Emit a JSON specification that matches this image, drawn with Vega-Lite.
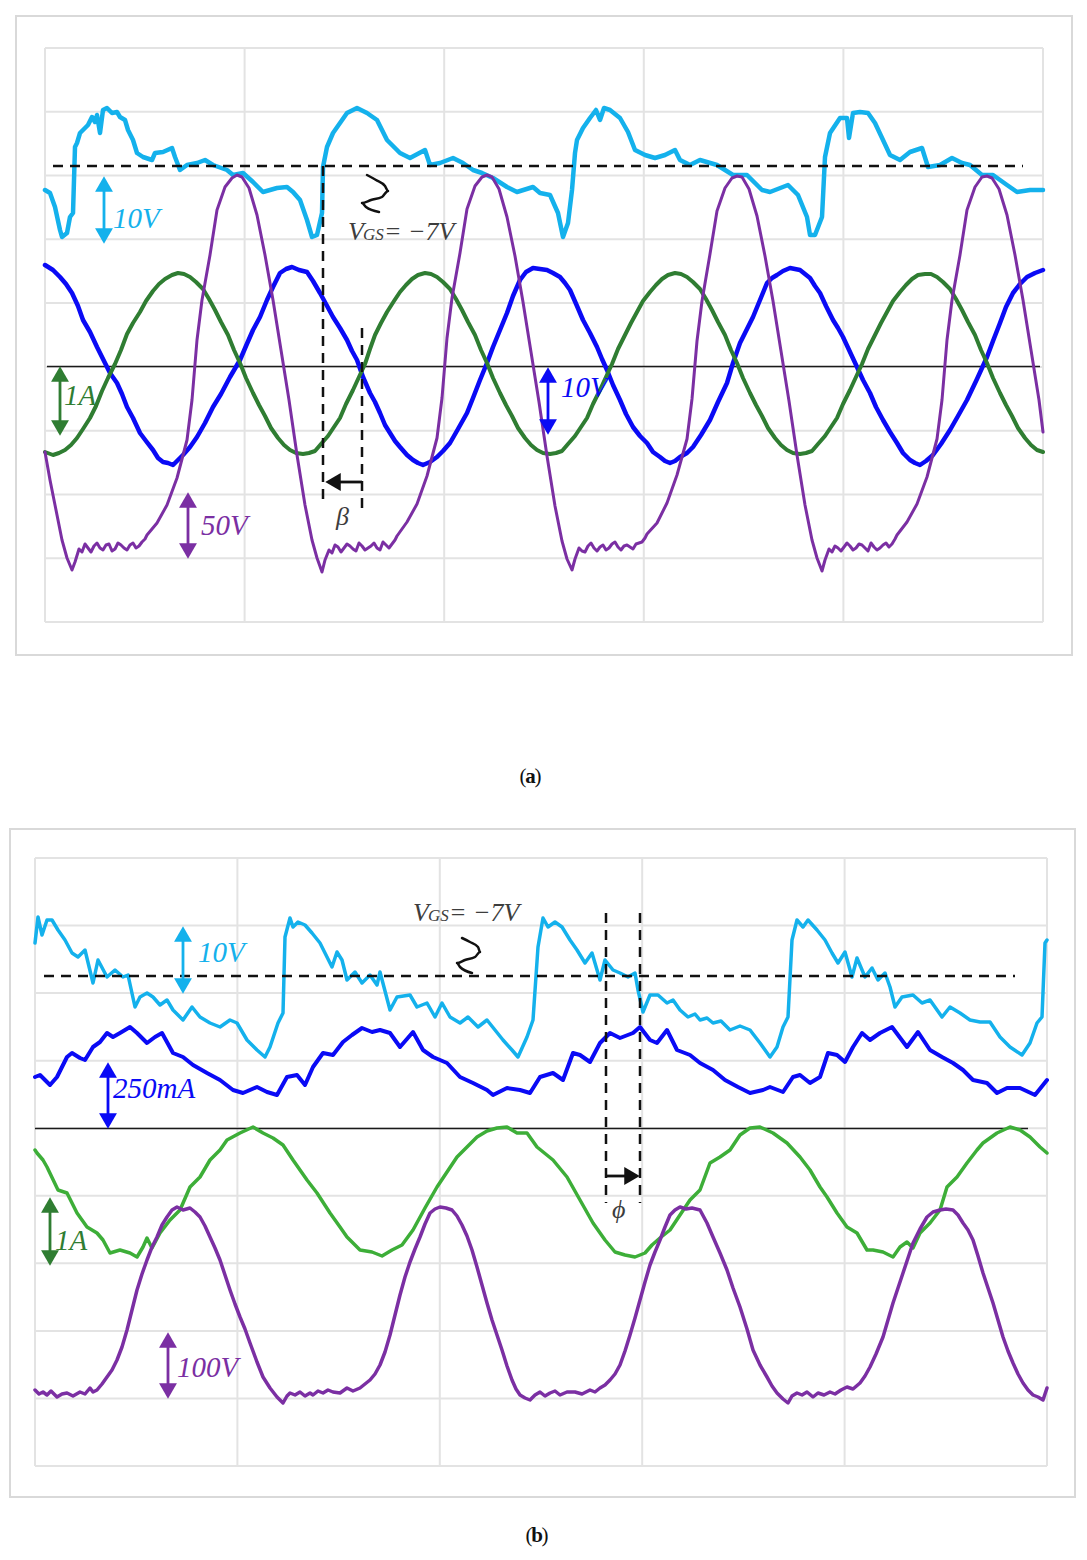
{
"$schema":"https://vega.github.io/schema/vega-lite/v6.json",
"padding":{"left":9,"top":15,"right":5,"bottom":5},
"autosize":{"type":"pad"},
"background":"white",
"config":{"view":{"stroke":null}},
"bounds":"flush",
"spacing":236,
"resolve":{"scale":{"x":"independent","y":"independent"}},
"datasets":{
"aFrame":[{"t":-29,"t2":1027,"v":-33,"v2":606}],
"aGrid":[{"t":0,"t2":0,"v":0,"v2":574},{"t":199.6,"t2":199.6,"v":0,"v2":574},{"t":399.2,"t2":399.2,"v":0,"v2":574},{"t":598.8,"t2":598.8,"v":0,"v2":574},{"t":798.4,"t2":798.4,"v":0,"v2":574},{"t":998,"t2":998,"v":0,"v2":574},
{"t":0,"t2":998,"v":0,"v2":0},{"t":0,"t2":998,"v":63.8,"v2":63.8},{"t":0,"t2":998,"v":127.6,"v2":127.6},{"t":0,"t2":998,"v":191.3,"v2":191.3},{"t":0,"t2":998,"v":255.1,"v2":255.1},{"t":0,"t2":998,"v":318.9,"v2":318.9},{"t":0,"t2":998,"v":382.7,"v2":382.7},{"t":0,"t2":998,"v":446.4,"v2":446.4},{"t":0,"t2":998,"v":510.2,"v2":510.2},{"t":0,"t2":998,"v":574,"v2":574}],
"aZero":[{"t":2,"t2":995,"v":255.5,"v2":255.5}],
"aDash":[{"t":8,"t2":978,"v":456,"v2":456},{"t":278,"t2":278,"v":456,"v2":122},{"t":317,"t2":317,"v":294,"v2":108}],
"aSquig":[{"i":1,"t":322,"v":447},{"i":2,"t":331,"v":442},{"i":3,"t":340,"v":436},{"i":4,"t":343,"v":431},{"i":5,"t":337,"v":425},{"i":6,"t":326,"v":422},{"i":7,"t":317,"v":419},{"i":8,"t":321,"v":415},{"i":9,"t":334,"v":410}],
"aShaft":[{"s":"c","t":59,"t2":59,"v":438,"v2":386},{"s":"g","t":15,"t2":15,"v":248,"v2":194},{"s":"b","t":503,"t2":503,"v":247,"v2":195},{"s":"p","t":143,"t2":143,"v":122,"v2":71},{"s":"k","t":288,"t2":317,"v":140,"v2":140}],
"aHead":[{"s":"c","t":59,"v":438,"d":"u"},{"s":"c","t":59,"v":386,"d":"d"},{"s":"g","t":15,"v":248,"d":"u"},{"s":"g","t":15,"v":194,"d":"d"},{"s":"b","t":503,"v":247,"d":"u"},{"s":"b","t":503,"v":195,"d":"d"},{"s":"p","t":143,"v":122,"d":"u"},{"s":"p","t":143,"v":71,"d":"d"},{"s":"k","t":288,"v":140,"d":"l"}],
"aLab":[{"s":"c","t":68,"v":394,"label":"10V"},{"s":"g","t":19,"v":217,"label":"1A"},{"s":"b","t":516,"v":225,"label":"10V"},{"s":"p","t":156,"v":87,"label":"50V"}],
"aTxt":[{"s":"t","t":303,"v":382,"label":"V"},{"s":"t","t":339,"v":382,"label":"= −7V"},{"s":"t","t":291,"v":97,"label":"β"}],
"aSub":[{"s":"t","t":318,"v":382,"label":"GS"}],
"aCap":[{"t":478,"v":-161,"label":"("},{"t":493,"v":-161,"label":")"}],
"aCapB":[{"t":485.5,"v":-161,"label":"a"}],
"aCyan":[{"t":0,"v":432},{"t":5,"v":429},{"t":10,"v":415},{"t":15,"v":392},{"t":17,"v":385},{"t":22,"v":389},{"t":25,"v":405},{"t":28,"v":409},{"t":30,"v":475},{"t":32,"v":479},{"t":35,"v":489},{"t":38,"v":492},{"t":43,"v":497},{"t":47,"v":505},{"t":50,"v":500},{"t":52,"v":507},{"t":55,"v":489},{"t":58,"v":512},{"t":62,"v":514},{"t":67,"v":509},{"t":72,"v":510},{"t":75,"v":505},{"t":80,"v":502},{"t":83,"v":492},{"t":88,"v":482},{"t":92,"v":469},{"t":98,"v":465},{"t":107,"v":462},{"t":110,"v":469},{"t":118,"v":470},{"t":127,"v":474},{"t":130,"v":465},{"t":135,"v":452},{"t":142,"v":457},{"t":152,"v":459},{"t":160,"v":462},{"t":168,"v":457},{"t":182,"v":452},{"t":188,"v":447},{"t":198,"v":449},{"t":208,"v":440},{"t":218,"v":430},{"t":232,"v":434},{"t":242,"v":435},{"t":248,"v":430},{"t":255,"v":422},{"t":262,"v":402},{"t":267,"v":385},{"t":272,"v":387},{"t":277,"v":409},{"t":278,"v":455},{"t":282,"v":475},{"t":288,"v":489},{"t":295,"v":499},{"t":302,"v":509},{"t":312,"v":514},{"t":322,"v":509},{"t":332,"v":502},{"t":342,"v":482},{"t":355,"v":469},{"t":365,"v":464},{"t":380,"v":472},{"t":385,"v":457},{"t":395,"v":459},{"t":408,"v":464},{"t":418,"v":459},{"t":428,"v":452},{"t":437,"v":449},{"t":448,"v":444},{"t":462,"v":435},{"t":472,"v":430},{"t":488,"v":435},{"t":495,"v":429},{"t":505,"v":427},{"t":513,"v":409},{"t":518,"v":385},{"t":523,"v":399},{"t":527,"v":432},{"t":530,"v":469},{"t":532,"v":482},{"t":538,"v":494},{"t":545,"v":504},{"t":551,"v":512},{"t":555,"v":502},{"t":559,"v":514},{"t":565,"v":512},{"t":575,"v":504},{"t":583,"v":490},{"t":590,"v":472},{"t":600,"v":467},{"t":610,"v":464},{"t":620,"v":467},{"t":630,"v":472},{"t":635,"v":462},{"t":645,"v":457},{"t":655,"v":462},{"t":672,"v":457},{"t":688,"v":447},{"t":702,"v":447},{"t":717,"v":432},{"t":725,"v":430},{"t":743,"v":437},{"t":753,"v":427},{"t":762,"v":405},{"t":765,"v":387},{"t":770,"v":387},{"t":777,"v":405},{"t":780,"v":465},{"t":785,"v":489},{"t":795,"v":504},{"t":802,"v":504},{"t":804,"v":484},{"t":808,"v":509},{"t":815,"v":510},{"t":823,"v":509},{"t":830,"v":499},{"t":838,"v":482},{"t":845,"v":467},{"t":855,"v":462},{"t":865,"v":470},{"t":877,"v":474},{"t":883,"v":455},{"t":895,"v":457},{"t":907,"v":464},{"t":917,"v":459},{"t":925,"v":457},{"t":937,"v":447},{"t":948,"v":447},{"t":962,"v":437},{"t":972,"v":430},{"t":985,"v":432},{"t":998,"v":432}],
"aBlue":[{"t":0,"v":357},{"t":8,"v":352},{"t":15,"v":345},{"t":21,"v":338},{"t":27,"v":329},{"t":33,"v":316},{"t":38,"v":302},{"t":45,"v":290},{"t":52,"v":275},{"t":58,"v":263},{"t":65,"v":249},{"t":72,"v":239},{"t":77,"v":228},{"t":82,"v":215},{"t":88,"v":204},{"t":95,"v":189},{"t":101,"v":181},{"t":108,"v":172},{"t":113,"v":164},{"t":118,"v":160},{"t":123,"v":159},{"t":128,"v":157},{"t":133,"v":162},{"t":138,"v":167},{"t":145,"v":175},{"t":152,"v":185},{"t":160,"v":199},{"t":168,"v":215},{"t":176,"v":228},{"t":185,"v":245},{"t":195,"v":262},{"t":201,"v":276},{"t":208,"v":292},{"t":215,"v":305},{"t":222,"v":322},{"t":228,"v":335},{"t":235,"v":349},{"t":241,"v":353},{"t":247,"v":355},{"t":254,"v":352},{"t":262,"v":350},{"t":268,"v":341},{"t":275,"v":329},{"t":281,"v":318},{"t":288,"v":305},{"t":295,"v":294},{"t":302,"v":282},{"t":307,"v":271},{"t":312,"v":262},{"t":318,"v":245},{"t":325,"v":229},{"t":330,"v":220},{"t":335,"v":209},{"t":340,"v":197},{"t":345,"v":189},{"t":350,"v":181},{"t":355,"v":175},{"t":362,"v":167},{"t":368,"v":162},{"t":373,"v":159},{"t":378,"v":157},{"t":385,"v":160},{"t":392,"v":165},{"t":398,"v":171},{"t":405,"v":179},{"t":413,"v":193},{"t":422,"v":209},{"t":428,"v":224},{"t":435,"v":242},{"t":442,"v":259},{"t":448,"v":275},{"t":455,"v":292},{"t":462,"v":309},{"t":468,"v":326},{"t":475,"v":342},{"t":481,"v":350},{"t":488,"v":354},{"t":495,"v":353},{"t":502,"v":352},{"t":508,"v":349},{"t":515,"v":345},{"t":520,"v":339},{"t":525,"v":332},{"t":532,"v":316},{"t":538,"v":302},{"t":545,"v":289},{"t":552,"v":275},{"t":557,"v":263},{"t":562,"v":252},{"t":568,"v":237},{"t":575,"v":222},{"t":581,"v":208},{"t":588,"v":195},{"t":595,"v":186},{"t":602,"v":179},{"t":608,"v":170},{"t":615,"v":165},{"t":620,"v":161},{"t":625,"v":159},{"t":630,"v":161},{"t":635,"v":165},{"t":642,"v":169},{"t":648,"v":175},{"t":656,"v":187},{"t":665,"v":202},{"t":673,"v":220},{"t":682,"v":239},{"t":688,"v":259},{"t":695,"v":279},{"t":701,"v":291},{"t":708,"v":305},{"t":715,"v":322},{"t":722,"v":339},{"t":727,"v":344},{"t":732,"v":347},{"t":738,"v":351},{"t":745,"v":354},{"t":750,"v":353},{"t":755,"v":352},{"t":760,"v":348},{"t":765,"v":344},{"t":770,"v":336},{"t":775,"v":329},{"t":781,"v":316},{"t":788,"v":302},{"t":793,"v":294},{"t":798,"v":285},{"t":805,"v":270},{"t":812,"v":255},{"t":818,"v":242},{"t":825,"v":229},{"t":831,"v":215},{"t":838,"v":202},{"t":845,"v":190},{"t":852,"v":179},{"t":858,"v":169},{"t":865,"v":162},{"t":870,"v":159},{"t":875,"v":157},{"t":881,"v":161},{"t":888,"v":167},{"t":896,"v":178},{"t":905,"v":192},{"t":913,"v":206},{"t":922,"v":222},{"t":932,"v":243},{"t":942,"v":265},{"t":948,"v":281},{"t":955,"v":299},{"t":961,"v":315},{"t":968,"v":329},{"t":975,"v":338},{"t":982,"v":345},{"t":990,"v":349},{"t":998,"v":352}],
"aGreen":[{"t":0,"v":170},{"t":8,"v":167},{"t":14,"v":169},{"t":20,"v":172},{"t":26,"v":177},{"t":32,"v":184},{"t":38,"v":193},{"t":45,"v":204},{"t":51,"v":216},{"t":57,"v":231},{"t":63,"v":244},{"t":70,"v":258},{"t":76,"v":272},{"t":82,"v":288},{"t":88,"v":299},{"t":95,"v":310},{"t":101,"v":321},{"t":108,"v":331},{"t":114,"v":338},{"t":120,"v":343},{"t":127,"v":347},{"t":133,"v":349},{"t":139,"v":348},{"t":145,"v":345},{"t":151,"v":340},{"t":158,"v":333},{"t":164,"v":323},{"t":170,"v":312},{"t":176,"v":300},{"t":183,"v":287},{"t":189,"v":272},{"t":195,"v":259},{"t":201,"v":244},{"t":208,"v":229},{"t":214,"v":217},{"t":220,"v":206},{"t":226,"v":194},{"t":233,"v":184},{"t":239,"v":177},{"t":245,"v":172},{"t":251,"v":169},{"t":258,"v":168},{"t":264,"v":169},{"t":270,"v":171},{"t":276,"v":178},{"t":283,"v":186},{"t":289,"v":195},{"t":295,"v":204},{"t":301,"v":218},{"t":308,"v":232},{"t":314,"v":245},{"t":320,"v":258},{"t":325,"v":273},{"t":330,"v":287},{"t":336,"v":299},{"t":342,"v":310},{"t":349,"v":321},{"t":355,"v":330},{"t":361,"v":337},{"t":367,"v":343},{"t":373,"v":347},{"t":380,"v":349},{"t":386,"v":348},{"t":392,"v":345},{"t":398,"v":340},{"t":405,"v":333},{"t":411,"v":323},{"t":417,"v":312},{"t":423,"v":300},{"t":430,"v":287},{"t":436,"v":272},{"t":442,"v":259},{"t":448,"v":244},{"t":455,"v":229},{"t":461,"v":217},{"t":467,"v":206},{"t":473,"v":194},{"t":480,"v":184},{"t":486,"v":177},{"t":492,"v":172},{"t":498,"v":169},{"t":505,"v":168},{"t":511,"v":169},{"t":517,"v":171},{"t":523,"v":178},{"t":530,"v":186},{"t":536,"v":195},{"t":542,"v":204},{"t":548,"v":218},{"t":555,"v":232},{"t":561,"v":245},{"t":567,"v":258},{"t":573,"v":273},{"t":580,"v":287},{"t":586,"v":299},{"t":592,"v":310},{"t":598,"v":321},{"t":605,"v":330},{"t":611,"v":337},{"t":617,"v":343},{"t":623,"v":347},{"t":630,"v":349},{"t":636,"v":348},{"t":642,"v":345},{"t":648,"v":340},{"t":655,"v":333},{"t":661,"v":323},{"t":667,"v":312},{"t":673,"v":300},{"t":680,"v":287},{"t":686,"v":272},{"t":692,"v":259},{"t":698,"v":244},{"t":705,"v":229},{"t":711,"v":217},{"t":717,"v":206},{"t":723,"v":194},{"t":730,"v":184},{"t":736,"v":177},{"t":742,"v":172},{"t":748,"v":169},{"t":755,"v":168},{"t":761,"v":169},{"t":767,"v":171},{"t":773,"v":178},{"t":780,"v":186},{"t":786,"v":195},{"t":792,"v":204},{"t":798,"v":218},{"t":805,"v":232},{"t":811,"v":245},{"t":817,"v":258},{"t":823,"v":273},{"t":830,"v":287},{"t":836,"v":299},{"t":842,"v":310},{"t":848,"v":321},{"t":855,"v":330},{"t":861,"v":337},{"t":867,"v":343},{"t":873,"v":347},{"t":880,"v":348},{"t":886,"v":348},{"t":892,"v":345},{"t":898,"v":340},{"t":905,"v":333},{"t":911,"v":323},{"t":917,"v":312},{"t":923,"v":300},{"t":930,"v":287},{"t":936,"v":272},{"t":942,"v":259},{"t":948,"v":244},{"t":955,"v":229},{"t":961,"v":217},{"t":967,"v":206},{"t":973,"v":194},{"t":980,"v":184},{"t":986,"v":177},{"t":992,"v":172},{"t":998,"v":170}],
"aPurple":[{"t":0,"v":170},{"t":5,"v":142},{"t":10,"v":117},{"t":17,"v":82},{"t":22,"v":64},{"t":27,"v":52},{"t":30,"v":60},{"t":34,"v":73},{"t":37,"v":70},{"t":40,"v":78},{"t":43,"v":74},{"t":46,"v":70},{"t":49,"v":76},{"t":52,"v":79},{"t":55,"v":74},{"t":58,"v":72},{"t":61,"v":77},{"t":64,"v":78},{"t":67,"v":71},{"t":70,"v":73},{"t":73,"v":79},{"t":76,"v":77},{"t":79,"v":74},{"t":82,"v":72},{"t":85,"v":77},{"t":88,"v":79},{"t":91,"v":74},{"t":94,"v":76},{"t":97,"v":80},{"t":100,"v":83},{"t":102,"v":87},{"t":112,"v":99},{"t":122,"v":117},{"t":132,"v":144},{"t":142,"v":182},{"t":147,"v":222},{"t":152,"v":282},{"t":157,"v":322},{"t":165,"v":367},{"t":172,"v":412},{"t":180,"v":435},{"t":187,"v":444},{"t":192,"v":447},{"t":197,"v":445},{"t":204,"v":434},{"t":212,"v":407},{"t":220,"v":367},{"t":228,"v":322},{"t":236,"v":272},{"t":244,"v":222},{"t":252,"v":167},{"t":260,"v":117},{"t":267,"v":82},{"t":272,"v":64},{"t":277,"v":50},{"t":280,"v":62},{"t":284,"v":72},{"t":287,"v":69},{"t":290,"v":77},{"t":293,"v":75},{"t":296,"v":70},{"t":299,"v":74},{"t":302,"v":78},{"t":305,"v":76},{"t":308,"v":73},{"t":311,"v":71},{"t":314,"v":79},{"t":317,"v":76},{"t":320,"v":72},{"t":323,"v":74},{"t":326,"v":76},{"t":329,"v":79},{"t":332,"v":74},{"t":335,"v":72},{"t":338,"v":80},{"t":341,"v":77},{"t":344,"v":74},{"t":347,"v":78},{"t":350,"v":82},{"t":352,"v":86},{"t":362,"v":100},{"t":372,"v":118},{"t":382,"v":146},{"t":392,"v":184},{"t":397,"v":224},{"t":402,"v":284},{"t":407,"v":324},{"t":415,"v":369},{"t":422,"v":413},{"t":430,"v":436},{"t":437,"v":445},{"t":442,"v":447},{"t":447,"v":445},{"t":454,"v":433},{"t":462,"v":405},{"t":470,"v":366},{"t":478,"v":320},{"t":486,"v":270},{"t":494,"v":220},{"t":502,"v":166},{"t":510,"v":116},{"t":517,"v":81},{"t":522,"v":63},{"t":527,"v":52},{"t":530,"v":63},{"t":534,"v":74},{"t":537,"v":71},{"t":540,"v":70},{"t":543,"v":76},{"t":546,"v":79},{"t":549,"v":74},{"t":552,"v":71},{"t":555,"v":75},{"t":558,"v":77},{"t":561,"v":72},{"t":564,"v":74},{"t":567,"v":78},{"t":570,"v":80},{"t":573,"v":75},{"t":576,"v":72},{"t":579,"v":76},{"t":582,"v":77},{"t":585,"v":75},{"t":588,"v":73},{"t":591,"v":78},{"t":594,"v":79},{"t":597,"v":80},{"t":600,"v":84},{"t":602,"v":88},{"t":612,"v":99},{"t":622,"v":119},{"t":632,"v":147},{"t":642,"v":183},{"t":647,"v":223},{"t":652,"v":281},{"t":657,"v":321},{"t":665,"v":368},{"t":672,"v":411},{"t":680,"v":434},{"t":687,"v":444},{"t":692,"v":446},{"t":697,"v":445},{"t":704,"v":433},{"t":712,"v":406},{"t":720,"v":366},{"t":728,"v":321},{"t":736,"v":271},{"t":744,"v":221},{"t":752,"v":167},{"t":760,"v":117},{"t":767,"v":82},{"t":772,"v":64},{"t":777,"v":51},{"t":780,"v":62},{"t":784,"v":73},{"t":787,"v":70},{"t":790,"v":76},{"t":793,"v":74},{"t":796,"v":71},{"t":799,"v":75},{"t":802,"v":79},{"t":805,"v":76},{"t":808,"v":72},{"t":811,"v":74},{"t":814,"v":78},{"t":817,"v":77},{"t":820,"v":74},{"t":823,"v":71},{"t":826,"v":79},{"t":829,"v":75},{"t":832,"v":72},{"t":835,"v":74},{"t":838,"v":77},{"t":841,"v":79},{"t":844,"v":75},{"t":847,"v":78},{"t":850,"v":83},{"t":852,"v":87},{"t":862,"v":100},{"t":872,"v":118},{"t":882,"v":145},{"t":892,"v":183},{"t":897,"v":222},{"t":902,"v":282},{"t":907,"v":322},{"t":915,"v":367},{"t":922,"v":412},{"t":930,"v":435},{"t":937,"v":445},{"t":942,"v":446},{"t":947,"v":444},{"t":954,"v":433},{"t":962,"v":407},{"t":970,"v":367},{"t":978,"v":322},{"t":986,"v":272},{"t":994,"v":222},{"t":998,"v":190}],
"bFrame":[{"t":-25,"t2":1040,"v":-31,"v2":637}],
"bGrid":[{"t":0,"t2":0,"v":0,"v2":608},{"t":202.4,"t2":202.4,"v":0,"v2":608},{"t":404.8,"t2":404.8,"v":0,"v2":608},{"t":607.2,"t2":607.2,"v":0,"v2":608},{"t":809.6,"t2":809.6,"v":0,"v2":608},{"t":1012,"t2":1012,"v":0,"v2":608},
{"t":0,"t2":1012,"v":0,"v2":0},{"t":0,"t2":1012,"v":67.6,"v2":67.6},{"t":0,"t2":1012,"v":135.1,"v2":135.1},{"t":0,"t2":1012,"v":202.7,"v2":202.7},{"t":0,"t2":1012,"v":270.2,"v2":270.2},{"t":0,"t2":1012,"v":337.8,"v2":337.8},{"t":0,"t2":1012,"v":405.3,"v2":405.3},{"t":0,"t2":1012,"v":472.9,"v2":472.9},{"t":0,"t2":1012,"v":540.4,"v2":540.4},{"t":0,"t2":1012,"v":608,"v2":608}],
"bZero":[{"t":0,"t2":993,"v":337.5,"v2":337.5}],
"bDash":[{"t":9,"t2":980,"v":490,"v2":490},{"t":571,"t2":571,"v":553,"v2":263},{"t":605,"t2":605,"v":553,"v2":263}],
"bSquig":[{"i":1,"t":427,"v":528},{"i":2,"t":435,"v":524},{"i":3,"t":443,"v":519},{"i":4,"t":445,"v":514},{"i":5,"t":440,"v":509},{"i":6,"t":430,"v":506},{"i":7,"t":422,"v":503},{"i":8,"t":425,"v":499},{"i":9,"t":437,"v":493}],
"bShaft":[{"s":"c","t":148,"t2":148,"v":532,"v2":480},{"s":"b","t":73,"t2":73,"v":396,"v2":345},{"s":"g","t":15,"t2":15,"v":261,"v2":208},{"s":"p","t":133,"t2":133,"v":126,"v2":75},{"s":"k","t":571,"t2":597,"v":290,"v2":290}],
"bHead":[{"s":"c","t":148,"v":532,"d":"u"},{"s":"c","t":148,"v":480,"d":"d"},{"s":"b","t":73,"v":396,"d":"u"},{"s":"b","t":73,"v":345,"d":"d"},{"s":"g","t":15,"v":261,"d":"u"},{"s":"g","t":15,"v":208,"d":"d"},{"s":"p","t":133,"v":126,"d":"u"},{"s":"p","t":133,"v":75,"d":"d"},{"s":"k","t":597,"v":290,"d":"r"}],
"bLab":[{"s":"c","t":163,"v":504,"label":"10V"},{"s":"b","t":78,"v":368,"label":"250mA"},{"s":"g","t":20,"v":216,"label":"1A"},{"s":"p","t":142,"v":89,"label":"100V"}],
"bTxt":[{"s":"t","t":378,"v":545,"label":"V"},{"s":"t","t":414,"v":545,"label":"= −7V"},{"s":"t","t":577,"v":248,"label":"ϕ"}],
"bSub":[{"s":"t","t":393,"v":545,"label":"GS"}],
"bCap":[{"t":494,"v":-76,"label":"("},{"t":510,"v":-76,"label":")"}],
"bCapB":[{"t":502,"v":-76,"label":"b"}],
"bCyan":[{"t":0,"v":523},{"t":3,"v":549},{"t":7,"v":531},{"t":12,"v":546},{"t":17,"v":546},{"t":23,"v":536},{"t":30,"v":526},{"t":37,"v":513},{"t":43,"v":509},{"t":50,"v":516},{"t":58,"v":483},{"t":63,"v":506},{"t":72,"v":489},{"t":80,"v":496},{"t":88,"v":489},{"t":93,"v":491},{"t":100,"v":459},{"t":105,"v":469},{"t":112,"v":473},{"t":118,"v":469},{"t":125,"v":461},{"t":132,"v":466},{"t":138,"v":456},{"t":148,"v":446},{"t":157,"v":459},{"t":165,"v":449},{"t":175,"v":443},{"t":185,"v":439},{"t":195,"v":446},{"t":202,"v":443},{"t":212,"v":426},{"t":222,"v":416},{"t":230,"v":409},{"t":235,"v":419},{"t":243,"v":443},{"t":248,"v":453},{"t":250,"v":529},{"t":255,"v":548},{"t":258,"v":539},{"t":263,"v":544},{"t":270,"v":541},{"t":277,"v":533},{"t":285,"v":523},{"t":290,"v":513},{"t":297,"v":499},{"t":302,"v":514},{"t":307,"v":506},{"t":312,"v":486},{"t":320,"v":494},{"t":327,"v":483},{"t":335,"v":491},{"t":342,"v":481},{"t":345,"v":494},{"t":355,"v":456},{"t":362,"v":469},{"t":375,"v":471},{"t":382,"v":459},{"t":392,"v":463},{"t":400,"v":449},{"t":407,"v":463},{"t":415,"v":449},{"t":425,"v":443},{"t":433,"v":449},{"t":443,"v":439},{"t":452,"v":446},{"t":460,"v":436},{"t":468,"v":426},{"t":477,"v":416},{"t":483,"v":409},{"t":492,"v":429},{"t":498,"v":446},{"t":503,"v":519},{"t":508,"v":548},{"t":513,"v":539},{"t":520,"v":544},{"t":527,"v":539},{"t":535,"v":526},{"t":542,"v":516},{"t":550,"v":503},{"t":557,"v":513},{"t":565,"v":486},{"t":570,"v":506},{"t":578,"v":496},{"t":585,"v":493},{"t":593,"v":489},{"t":600,"v":493},{"t":603,"v":476},{"t":608,"v":454},{"t":615,"v":471},{"t":623,"v":471},{"t":632,"v":463},{"t":638,"v":466},{"t":645,"v":456},{"t":653,"v":449},{"t":660,"v":452},{"t":665,"v":446},{"t":672,"v":448},{"t":678,"v":443},{"t":686,"v":445},{"t":695,"v":436},{"t":705,"v":440},{"t":715,"v":436},{"t":725,"v":423},{"t":735,"v":409},{"t":742,"v":419},{"t":748,"v":439},{"t":753,"v":449},{"t":757,"v":526},{"t":762,"v":546},{"t":768,"v":539},{"t":773,"v":546},{"t":782,"v":536},{"t":790,"v":526},{"t":797,"v":513},{"t":803,"v":503},{"t":810,"v":514},{"t":817,"v":489},{"t":822,"v":508},{"t":830,"v":489},{"t":837,"v":498},{"t":843,"v":486},{"t":850,"v":493},{"t":855,"v":479},{"t":860,"v":459},{"t":867,"v":469},{"t":878,"v":471},{"t":887,"v":463},{"t":895,"v":466},{"t":907,"v":449},{"t":915,"v":459},{"t":925,"v":453},{"t":935,"v":446},{"t":945,"v":444},{"t":955,"v":444},{"t":965,"v":429},{"t":975,"v":419},{"t":987,"v":411},{"t":995,"v":423},{"t":1002,"v":443},{"t":1007,"v":449},{"t":1010,"v":523},{"t":1012,"v":526}],
"bBlue":[{"t":0,"v":389},{"t":5,"v":391},{"t":15,"v":381},{"t":22,"v":389},{"t":32,"v":409},{"t":37,"v":413},{"t":45,"v":408},{"t":50,"v":406},{"t":58,"v":419},{"t":65,"v":424},{"t":72,"v":433},{"t":78,"v":429},{"t":85,"v":433},{"t":95,"v":439},{"t":102,"v":433},{"t":112,"v":423},{"t":120,"v":429},{"t":127,"v":433},{"t":138,"v":413},{"t":148,"v":409},{"t":158,"v":401},{"t":172,"v":393},{"t":185,"v":386},{"t":198,"v":376},{"t":208,"v":373},{"t":222,"v":379},{"t":232,"v":374},{"t":242,"v":371},{"t":252,"v":389},{"t":262,"v":391},{"t":270,"v":381},{"t":278,"v":399},{"t":288,"v":413},{"t":298,"v":411},{"t":308,"v":424},{"t":317,"v":431},{"t":327,"v":438},{"t":337,"v":434},{"t":345,"v":436},{"t":355,"v":433},{"t":365,"v":419},{"t":378,"v":434},{"t":388,"v":416},{"t":398,"v":409},{"t":412,"v":403},{"t":425,"v":389},{"t":438,"v":383},{"t":452,"v":376},{"t":458,"v":371},{"t":472,"v":378},{"t":485,"v":376},{"t":495,"v":373},{"t":505,"v":389},{"t":518,"v":393},{"t":528,"v":386},{"t":538,"v":413},{"t":545,"v":411},{"t":555,"v":404},{"t":565,"v":423},{"t":575,"v":433},{"t":585,"v":428},{"t":598,"v":433},{"t":605,"v":439},{"t":615,"v":426},{"t":622,"v":423},{"t":632,"v":436},{"t":642,"v":416},{"t":655,"v":411},{"t":665,"v":403},{"t":678,"v":396},{"t":690,"v":386},{"t":703,"v":379},{"t":715,"v":373},{"t":728,"v":376},{"t":735,"v":379},{"t":748,"v":374},{"t":758,"v":389},{"t":765,"v":391},{"t":775,"v":383},{"t":785,"v":389},{"t":793,"v":413},{"t":802,"v":411},{"t":810,"v":404},{"t":818,"v":419},{"t":827,"v":433},{"t":835,"v":426},{"t":845,"v":433},{"t":857,"v":439},{"t":863,"v":431},{"t":872,"v":419},{"t":883,"v":434},{"t":895,"v":416},{"t":907,"v":409},{"t":918,"v":403},{"t":928,"v":396},{"t":938,"v":386},{"t":952,"v":383},{"t":962,"v":373},{"t":972,"v":378},{"t":985,"v":378},{"t":1000,"v":371},{"t":1012,"v":386}],
"bGreen":[{"t":0,"v":316},{"t":2,"v":313},{"t":8,"v":306},{"t":12,"v":299},{"t":23,"v":276},{"t":32,"v":273},{"t":42,"v":253},{"t":52,"v":239},{"t":62,"v":233},{"t":68,"v":226},{"t":75,"v":213},{"t":85,"v":216},{"t":95,"v":213},{"t":102,"v":209},{"t":108,"v":219},{"t":112,"v":228},{"t":117,"v":218},{"t":125,"v":233},{"t":135,"v":246},{"t":145,"v":256},{"t":155,"v":279},{"t":165,"v":289},{"t":175,"v":306},{"t":185,"v":316},{"t":192,"v":326},{"t":205,"v":333},{"t":218,"v":339},{"t":228,"v":333},{"t":238,"v":328},{"t":248,"v":321},{"t":258,"v":306},{"t":272,"v":286},{"t":282,"v":273},{"t":295,"v":253},{"t":305,"v":239},{"t":312,"v":229},{"t":325,"v":216},{"t":337,"v":214},{"t":347,"v":210},{"t":357,"v":216},{"t":367,"v":221},{"t":378,"v":236},{"t":390,"v":258},{"t":402,"v":279},{"t":412,"v":294},{"t":422,"v":309},{"t":432,"v":319},{"t":442,"v":329},{"t":452,"v":335},{"t":462,"v":338},{"t":472,"v":339},{"t":482,"v":333},{"t":492,"v":333},{"t":502,"v":319},{"t":518,"v":306},{"t":532,"v":289},{"t":545,"v":266},{"t":558,"v":243},{"t":570,"v":226},{"t":580,"v":214},{"t":590,"v":211},{"t":600,"v":209},{"t":610,"v":213},{"t":617,"v":221},{"t":625,"v":228},{"t":635,"v":236},{"t":645,"v":251},{"t":655,"v":266},{"t":665,"v":276},{"t":675,"v":303},{"t":685,"v":309},{"t":695,"v":316},{"t":705,"v":331},{"t":715,"v":338},{"t":725,"v":339},{"t":738,"v":333},{"t":752,"v":323},{"t":765,"v":309},{"t":775,"v":296},{"t":785,"v":279},{"t":792,"v":269},{"t":802,"v":253},{"t":812,"v":239},{"t":822,"v":233},{"t":832,"v":216},{"t":838,"v":216},{"t":848,"v":214},{"t":858,"v":209},{"t":865,"v":219},{"t":872,"v":224},{"t":878,"v":218},{"t":885,"v":233},{"t":895,"v":243},{"t":905,"v":256},{"t":912,"v":279},{"t":922,"v":289},{"t":932,"v":303},{"t":942,"v":316},{"t":948,"v":323},{"t":962,"v":333},{"t":975,"v":339},{"t":985,"v":336},{"t":995,"v":329},{"t":1005,"v":319},{"t":1012,"v":313}],
"bPurple":[{"t":0,"v":76},{"t":4,"v":72},{"t":8,"v":74},{"t":12,"v":71},{"t":16,"v":75},{"t":22,"v":69},{"t":27,"v":72},{"t":32,"v":73},{"t":38,"v":70},{"t":45,"v":74},{"t":50,"v":72},{"t":55,"v":78},{"t":58,"v":74},{"t":62,"v":76},{"t":67,"v":82},{"t":72,"v":89},{"t":77,"v":96},{"t":82,"v":106},{"t":87,"v":119},{"t":92,"v":136},{"t":97,"v":156},{"t":102,"v":176},{"t":107,"v":192},{"t":112,"v":206},{"t":117,"v":219},{"t":122,"v":229},{"t":127,"v":241},{"t":132,"v":249},{"t":137,"v":256},{"t":142,"v":259},{"t":148,"v":256},{"t":155,"v":258},{"t":160,"v":254},{"t":165,"v":249},{"t":170,"v":240},{"t":175,"v":229},{"t":180,"v":218},{"t":185,"v":206},{"t":190,"v":191},{"t":195,"v":176},{"t":200,"v":162},{"t":205,"v":149},{"t":210,"v":137},{"t":215,"v":123},{"t":222,"v":104},{"t":228,"v":89},{"t":235,"v":78},{"t":242,"v":69},{"t":248,"v":63},{"t":252,"v":70},{"t":255,"v":73},{"t":260,"v":71},{"t":265,"v":74},{"t":270,"v":70},{"t":275,"v":73},{"t":278,"v":71},{"t":283,"v":75},{"t":288,"v":73},{"t":293,"v":76},{"t":298,"v":74},{"t":305,"v":73},{"t":312,"v":78},{"t":318,"v":75},{"t":325,"v":78},{"t":330,"v":82},{"t":335,"v":86},{"t":340,"v":92},{"t":345,"v":101},{"t":350,"v":114},{"t":355,"v":131},{"t":360,"v":151},{"t":365,"v":171},{"t":370,"v":189},{"t":375,"v":204},{"t":380,"v":217},{"t":385,"v":229},{"t":390,"v":242},{"t":395,"v":253},{"t":400,"v":257},{"t":405,"v":259},{"t":411,"v":258},{"t":417,"v":256},{"t":422,"v":250},{"t":427,"v":241},{"t":432,"v":230},{"t":437,"v":216},{"t":442,"v":199},{"t":447,"v":181},{"t":452,"v":163},{"t":457,"v":146},{"t":462,"v":131},{"t":467,"v":116},{"t":472,"v":100},{"t":477,"v":86},{"t":481,"v":77},{"t":485,"v":71},{"t":490,"v":68},{"t":495,"v":66},{"t":500,"v":71},{"t":505,"v":74},{"t":510,"v":70},{"t":515,"v":73},{"t":520,"v":75},{"t":525,"v":71},{"t":532,"v":74},{"t":540,"v":74},{"t":547,"v":72},{"t":555,"v":76},{"t":560,"v":74},{"t":565,"v":78},{"t":570,"v":81},{"t":575,"v":86},{"t":580,"v":92},{"t":585,"v":101},{"t":590,"v":115},{"t":595,"v":131},{"t":600,"v":148},{"t":605,"v":166},{"t":610,"v":184},{"t":615,"v":201},{"t":620,"v":214},{"t":625,"v":226},{"t":630,"v":239},{"t":635,"v":251},{"t":640,"v":256},{"t":645,"v":259},{"t":651,"v":257},{"t":657,"v":258},{"t":665,"v":256},{"t":672,"v":243},{"t":678,"v":229},{"t":685,"v":213},{"t":692,"v":196},{"t":698,"v":178},{"t":705,"v":159},{"t":712,"v":137},{"t":718,"v":116},{"t":725,"v":101},{"t":732,"v":89},{"t":737,"v":80},{"t":742,"v":73},{"t":748,"v":67},{"t":753,"v":63},{"t":757,"v":70},{"t":762,"v":73},{"t":767,"v":71},{"t":772,"v":74},{"t":778,"v":69},{"t":783,"v":73},{"t":789,"v":71},{"t":795,"v":74},{"t":800,"v":72},{"t":806,"v":76},{"t":812,"v":79},{"t":818,"v":77},{"t":825,"v":83},{"t":830,"v":90},{"t":835,"v":99},{"t":841,"v":112},{"t":848,"v":129},{"t":853,"v":146},{"t":858,"v":163},{"t":863,"v":178},{"t":868,"v":193},{"t":873,"v":208},{"t":878,"v":223},{"t":885,"v":237},{"t":892,"v":249},{"t":898,"v":254},{"t":905,"v":256},{"t":911,"v":257},{"t":918,"v":256},{"t":923,"v":251},{"t":928,"v":243},{"t":933,"v":236},{"t":938,"v":226},{"t":943,"v":210},{"t":948,"v":193},{"t":953,"v":178},{"t":958,"v":163},{"t":963,"v":146},{"t":968,"v":129},{"t":973,"v":115},{"t":978,"v":103},{"t":983,"v":92},{"t":988,"v":83},{"t":993,"v":76},{"t":998,"v":71},{"t":1003,"v":69},{"t":1008,"v":66},{"t":1012,"v":78}]
},
"vconcat":[
{
"width":1012,"height":574,
"encoding":{
"x":{"field":"t","type":"quantitative","scale":{"domain":[-10,1002],"nice":false,"zero":false},"axis":null},
"y":{"field":"v","type":"quantitative","scale":{"domain":[0,574],"nice":false,"zero":false},"axis":null}
},
"layer":[
{"data":{"name":"aFrame"},"mark":{"type":"rect","fill":"white","fillOpacity":0,"stroke":"#d9d9d9","strokeWidth":2},"encoding":{"x2":{"field":"t2"},"y2":{"field":"v2"}}},
{"data":{"name":"aGrid"},"mark":{"type":"rule","color":"#e3e3e3","strokeWidth":2},"encoding":{"x2":{"field":"t2"},"y2":{"field":"v2"}}},
{"data":{"name":"aZero"},"mark":{"type":"rule","color":"#1a1a1a","strokeWidth":1.6},"encoding":{"x2":{"field":"t2"},"y2":{"field":"v2"}}},
{"data":{"name":"aCyan"},"mark":{"type":"line","color":"#14b1ec","strokeWidth":4.5,"strokeJoin":"round","strokeCap":"round"}},
{"data":{"name":"aBlue"},"mark":{"type":"line","color":"#0a0af5","strokeWidth":4.5,"strokeJoin":"round","strokeCap":"round"}},
{"data":{"name":"aGreen"},"mark":{"type":"line","color":"#2f7d32","strokeWidth":4,"strokeJoin":"round","strokeCap":"round"}},
{"data":{"name":"aPurple"},"mark":{"type":"line","color":"#7b2fa3","strokeWidth":3,"strokeJoin":"round","strokeCap":"round"}},
{"data":{"name":"aDash"},"mark":{"type":"rule","color":"#111111","strokeWidth":2.5,"strokeDash":[10,7]},"encoding":{"x2":{"field":"t2"},"y2":{"field":"v2"}}},
{"data":{"name":"aSquig"},"mark":{"type":"line","color":"#111111","strokeWidth":2.5,"strokeJoin":"round","strokeCap":"round","interpolate":"monotone"},"encoding":{"order":{"field":"i","type":"quantitative"}}},
{"data":{"name":"aShaft"},"mark":{"type":"rule","strokeWidth":2.8},"encoding":{"x2":{"field":"t2"},"y2":{"field":"v2"},"color":{"field":"s","type":"nominal","scale":{"domain":["c","b","g","p","k","t"],"range":["#14b1ec","#0a0af5","#2f7d32","#7b2fa3","#111111","#3d3d3d"]},"legend":null}}},
{"data":{"name":"aHead"},"mark":{"type":"point","filled":true,"size":320,"opacity":1,"strokeWidth":0},"encoding":{"shape":{"field":"d","type":"nominal","scale":{"domain":["u","d","l","r"],"range":["triangle-up","triangle-down","triangle-left","triangle-right"]},"legend":null},"color":{"field":"s","type":"nominal","scale":{"domain":["c","b","g","p","k","t"],"range":["#14b1ec","#0a0af5","#2f7d32","#7b2fa3","#111111","#3d3d3d"]},"legend":null}}},
{"data":{"name":"aLab"},"mark":{"type":"text","font":"Liberation Serif","fontStyle":"italic","fontSize":29,"align":"left","baseline":"alphabetic"},"encoding":{"text":{"field":"label"},"color":{"field":"s","type":"nominal","scale":{"domain":["c","b","g","p","k","t"],"range":["#14b1ec","#0a0af5","#2f7d32","#7b2fa3","#111111","#3d3d3d"]},"legend":null}}},
{"data":{"name":"aTxt"},"mark":{"type":"text","font":"Liberation Serif","fontStyle":"italic","fontSize":26,"align":"left","baseline":"alphabetic"},"encoding":{"text":{"field":"label"},"color":{"field":"s","type":"nominal","scale":{"domain":["c","b","g","p","k","t"],"range":["#14b1ec","#0a0af5","#2f7d32","#7b2fa3","#111111","#3d3d3d"]},"legend":null}}},
{"data":{"name":"aSub"},"mark":{"type":"text","font":"Liberation Serif","fontStyle":"italic","fontSize":17,"align":"left","baseline":"alphabetic"},"encoding":{"text":{"field":"label"},"color":{"field":"s","type":"nominal","scale":{"domain":["c","b","g","p","k","t"],"range":["#14b1ec","#0a0af5","#2f7d32","#7b2fa3","#111111","#3d3d3d"]},"legend":null}}},
{"data":{"name":"aCap"},"mark":{"type":"text","font":"Liberation Serif","fontSize":21,"align":"center","baseline":"alphabetic","color":"#111111"},"encoding":{"text":{"field":"label"}}},
{"data":{"name":"aCapB"},"mark":{"type":"text","font":"Liberation Serif","fontSize":21,"fontWeight":"bold","align":"center","baseline":"alphabetic","color":"#111111"},"encoding":{"text":{"field":"label"}}}
]
},
{
"width":1012,"height":608,
"encoding":{
"x":{"field":"t","type":"quantitative","scale":{"domain":[0,1012],"nice":false,"zero":false},"axis":null},
"y":{"field":"v","type":"quantitative","scale":{"domain":[0,608],"nice":false,"zero":false},"axis":null}
},
"layer":[
{"data":{"name":"bFrame"},"mark":{"type":"rect","fill":"white","fillOpacity":0,"stroke":"#d9d9d9","strokeWidth":2},"encoding":{"x2":{"field":"t2"},"y2":{"field":"v2"}}},
{"data":{"name":"bGrid"},"mark":{"type":"rule","color":"#e3e3e3","strokeWidth":2},"encoding":{"x2":{"field":"t2"},"y2":{"field":"v2"}}},
{"data":{"name":"bZero"},"mark":{"type":"rule","color":"#1a1a1a","strokeWidth":1.6},"encoding":{"x2":{"field":"t2"},"y2":{"field":"v2"}}},
{"data":{"name":"bCyan"},"mark":{"type":"line","color":"#14b1ec","strokeWidth":3.5,"strokeJoin":"round","strokeCap":"round"}},
{"data":{"name":"bBlue"},"mark":{"type":"line","color":"#0a0af5","strokeWidth":4,"strokeJoin":"round","strokeCap":"round"}},
{"data":{"name":"bGreen"},"mark":{"type":"line","color":"#3dae38","strokeWidth":3.5,"strokeJoin":"round","strokeCap":"round"}},
{"data":{"name":"bPurple"},"mark":{"type":"line","color":"#7b2fa3","strokeWidth":3.5,"strokeJoin":"round","strokeCap":"round"}},
{"data":{"name":"bDash"},"mark":{"type":"rule","color":"#111111","strokeWidth":2.5,"strokeDash":[10,7]},"encoding":{"x2":{"field":"t2"},"y2":{"field":"v2"}}},
{"data":{"name":"bSquig"},"mark":{"type":"line","color":"#111111","strokeWidth":2.5,"strokeJoin":"round","strokeCap":"round","interpolate":"monotone"},"encoding":{"order":{"field":"i","type":"quantitative"}}},
{"data":{"name":"bShaft"},"mark":{"type":"rule","strokeWidth":2.8},"encoding":{"x2":{"field":"t2"},"y2":{"field":"v2"},"color":{"field":"s","type":"nominal","scale":{"domain":["c","b","g","p","k","t"],"range":["#14b1ec","#0a0af5","#2f7d32","#7b2fa3","#111111","#3d3d3d"]},"legend":null}}},
{"data":{"name":"bHead"},"mark":{"type":"point","filled":true,"size":320,"opacity":1,"strokeWidth":0},"encoding":{"shape":{"field":"d","type":"nominal","scale":{"domain":["u","d","l","r"],"range":["triangle-up","triangle-down","triangle-left","triangle-right"]},"legend":null},"color":{"field":"s","type":"nominal","scale":{"domain":["c","b","g","p","k","t"],"range":["#14b1ec","#0a0af5","#2f7d32","#7b2fa3","#111111","#3d3d3d"]},"legend":null}}},
{"data":{"name":"bLab"},"mark":{"type":"text","font":"Liberation Serif","fontStyle":"italic","fontSize":29,"align":"left","baseline":"alphabetic"},"encoding":{"text":{"field":"label"},"color":{"field":"s","type":"nominal","scale":{"domain":["c","b","g","p","k","t"],"range":["#14b1ec","#0a0af5","#2f7d32","#7b2fa3","#111111","#3d3d3d"]},"legend":null}}},
{"data":{"name":"bTxt"},"mark":{"type":"text","font":"Liberation Serif","fontStyle":"italic","fontSize":26,"align":"left","baseline":"alphabetic"},"encoding":{"text":{"field":"label"},"color":{"field":"s","type":"nominal","scale":{"domain":["c","b","g","p","k","t"],"range":["#14b1ec","#0a0af5","#2f7d32","#7b2fa3","#111111","#3d3d3d"]},"legend":null}}},
{"data":{"name":"bSub"},"mark":{"type":"text","font":"Liberation Serif","fontStyle":"italic","fontSize":17,"align":"left","baseline":"alphabetic"},"encoding":{"text":{"field":"label"},"color":{"field":"s","type":"nominal","scale":{"domain":["c","b","g","p","k","t"],"range":["#14b1ec","#0a0af5","#2f7d32","#7b2fa3","#111111","#3d3d3d"]},"legend":null}}},
{"data":{"name":"bCap"},"mark":{"type":"text","font":"Liberation Serif","fontSize":21,"align":"center","baseline":"alphabetic","color":"#111111"},"encoding":{"text":{"field":"label"}}},
{"data":{"name":"bCapB"},"mark":{"type":"text","font":"Liberation Serif","fontSize":21,"fontWeight":"bold","align":"center","baseline":"alphabetic","color":"#111111"},"encoding":{"text":{"field":"label"}}}
]
}
]
}
